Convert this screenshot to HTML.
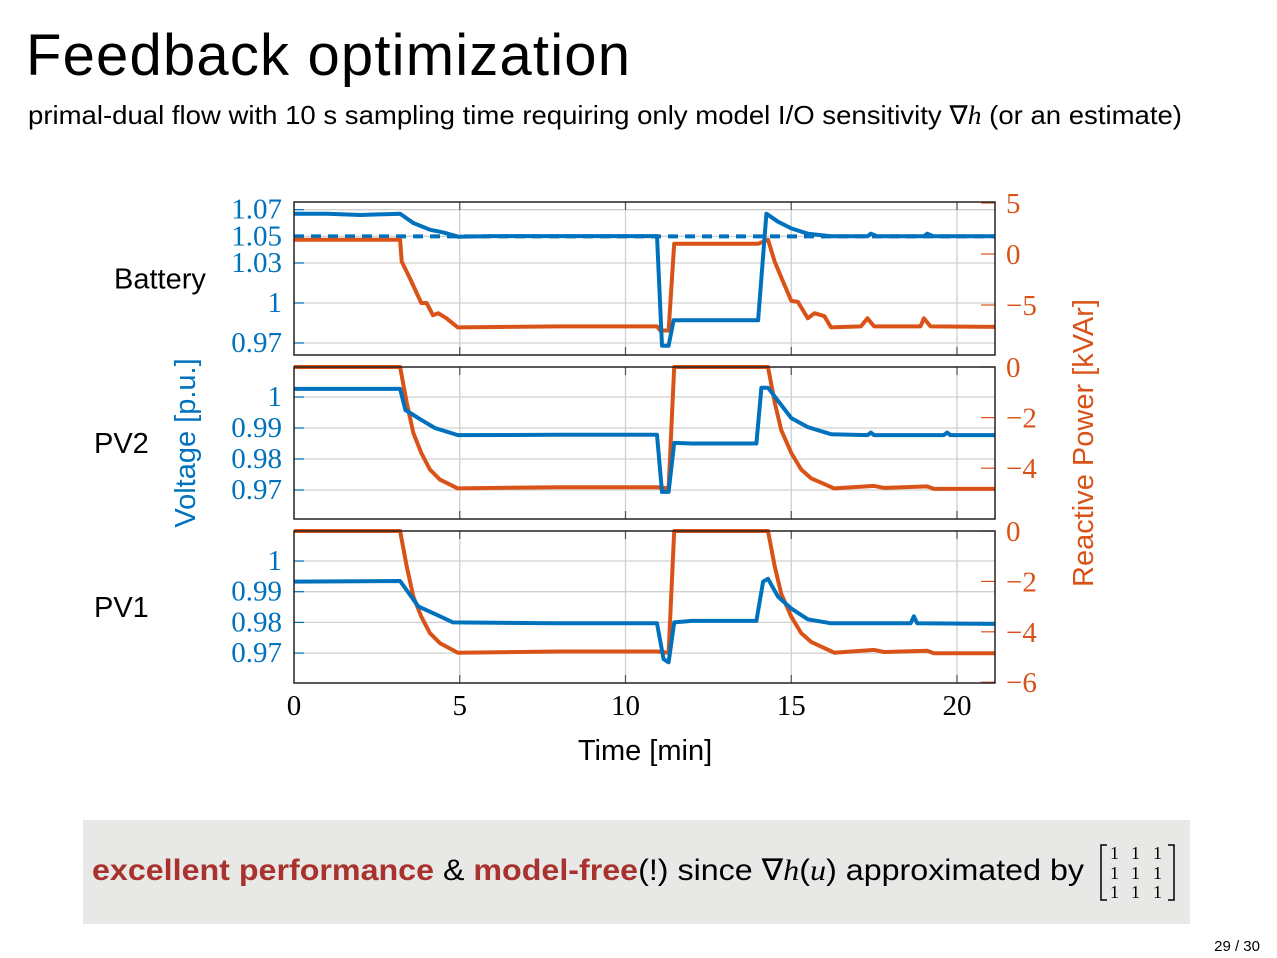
<!DOCTYPE html>
<html><head><meta charset="utf-8"><style>
html,body{margin:0;padding:0;background:#fff;}
svg{display:block;}
</style></head><body>
<svg id="page" width="1277" height="958" viewBox="0 0 1277 958" xmlns="http://www.w3.org/2000/svg">
<text x="26" y="75" font-family="Liberation Sans, sans-serif" font-size="58" fill="#000" textLength="604">Feedback optimization</text>
<text x="28" y="124" font-family="Liberation Sans, sans-serif" font-size="26" fill="#000" textLength="1154" lengthAdjust="spacingAndGlyphs">primal-dual flow with 10 s sampling time requiring only model I/O sensitivity ∇<tspan font-family="Liberation Serif, serif" font-style="italic">h</tspan> (or an estimate)</text>
<g id="chart"></g>
<rect x="83" y="820" width="1107" height="104" fill="#e8e8e6"/>
<text x="92" y="880" font-family="Liberation Sans, sans-serif" font-size="30" fill="#000" textLength="992" lengthAdjust="spacingAndGlyphs"><tspan font-weight="bold" fill="#a8322d">excellent performance</tspan> &amp; <tspan font-weight="bold" fill="#a8322d">model-free</tspan>(!) since ∇<tspan font-family="Liberation Serif, serif" font-style="italic">h</tspan>(<tspan font-family="Liberation Serif, serif" font-style="italic">u</tspan>) approximated by</text>
<g font-family="Liberation Serif, serif" font-size="18" fill="#000">
<path d="M1107 845 H1101 V900 H1107" fill="none" stroke="#000" stroke-width="1.5"/>
<path d="M1168 845 H1174 V900 H1168" fill="none" stroke="#000" stroke-width="1.5"/>
<text x="1110" y="859">1</text><text x="1131" y="859">1</text><text x="1153" y="859">1</text>
<text x="1110" y="879">1</text><text x="1131" y="879">1</text><text x="1153" y="879">1</text>
<text x="1110" y="898">1</text><text x="1131" y="898">1</text><text x="1153" y="898">1</text>
</g>
<text x="1260" y="951" text-anchor="end" font-family="Liberation Sans, sans-serif" font-size="15" fill="#000">29 / 30</text>
</svg>
<script>
const timeTicks = [0, 5, 10, 15, 20];
const batVT = [0,1,2,3.2,3.6,4.1,4.5,4.95,6,8,10,10.95,11.1,11.3,11.45,12,13,14.0,14.25,14.6,15.0,15.5,16.2,17.3,17.4,17.6,19.0,19.1,19.3,21.15];
const batVV = [1.067,1.067,1.066,1.067,1.06,1.055,1.053,1.0497,1.0502,1.0502,1.0502,1.0502,0.968,0.968,0.987,0.987,0.987,0.987,1.067,1.061,1.056,1.052,1.050,1.050,1.052,1.050,1.050,1.052,1.050,1.050];
const batQT = [0,3.2,3.25,3.5,3.84,4.0,4.19,4.35,4.6,4.94,8,10.95,11.05,11.3,11.47,12,14.0,14.3,14.5,14.75,15.0,15.2,15.5,15.7,16.0,16.2,17.1,17.3,17.5,18.9,19.0,19.2,21.15];
const batQV = [1.4,1.4,-0.75,-2.4,-4.8,-4.8,-6.0,-5.8,-6.3,-7.2,-7.1,-7.1,-7.5,-7.5,1.0,1.0,1.0,1.4,-0.75,-2.7,-4.6,-4.7,-6.3,-5.8,-6.1,-7.2,-7.1,-6.3,-7.1,-7.1,-6.3,-7.1,-7.15];
const pv2VT = [0,3.2,3.36,3.84,4.25,4.94,8,10.95,11.1,11.3,11.47,12,13.95,14.1,14.3,15.0,15.5,16.2,17.3,17.4,17.5,19.6,19.7,19.8,21.15];
const pv2VV = [1.0026,1.0026,0.9958,0.9926,0.990,0.9877,0.9878,0.9878,0.9694,0.9694,0.9852,0.985,0.985,1.003,1.003,0.9932,0.9903,0.988,0.9877,0.9885,0.9877,0.9877,0.9885,0.9877,0.9877];
const pv2QT = [0,3.2,3.4,3.6,3.84,4.1,4.4,4.94,8,10.95,11.3,11.47,14.3,14.5,14.7,15.0,15.3,15.6,16.3,17.5,17.8,19.1,19.3,21.15];
const pv2QV = [0,0,-1.4,-2.6,-3.4,-4.05,-4.45,-4.8,-4.75,-4.75,-4.8,0,0,-1.4,-2.5,-3.4,-4.05,-4.4,-4.8,-4.7,-4.78,-4.72,-4.82,-4.82];
const pv1VT = [0,3.2,3.75,4.3,4.8,8,10.95,11.15,11.3,11.47,12,13.95,14.15,14.3,14.6,15.0,15.5,16.2,18.6,18.7,18.8,21.15];
const pv1VV = [0.9933,0.9935,0.9852,0.9825,0.980,0.9797,0.9797,0.968,0.967,0.980,0.9805,0.9805,0.9933,0.9942,0.9884,0.9845,0.981,0.9797,0.9797,0.982,0.9797,0.9795];
const pv1QT = [0,3.2,3.4,3.6,3.84,4.1,4.4,4.94,8,10.95,11.3,11.47,14.3,14.5,14.7,15.0,15.3,15.6,16.3,17.5,17.8,19.1,19.3,21.15];
const pv1QV = [0,0,-1.4,-2.6,-3.4,-4.05,-4.45,-4.83,-4.78,-4.78,-4.83,0,0,-1.4,-2.5,-3.4,-4.05,-4.4,-4.83,-4.72,-4.8,-4.75,-4.85,-4.85];
const batVTicks = [1.07,1.05,1.03,1,0.97];
const batQTicks = [5,0,-5];
const pv2VTicks = [1,0.99,0.98,0.97];
const pv2QTicks = [0,-2,-4];
const pv1VTicks = [1,0.99,0.98,0.97];
const pv1QTicks = [0,-2,-4,-6];

const NS = 'http://www.w3.org/2000/svg';
const BLUE = '#0072bd', ORANGE = '#d95319';
const X0 = 294, X1 = 995;
const xs = t => X0 + t * 33.15;
const chart = document.getElementById('chart');
function mk(tag, attrs, parent) {
  const e = document.createElementNS(NS, tag);
  for (const k in attrs) e.setAttribute(k, attrs[k]);
  (parent || chart).appendChild(e);
  return e;
}
function fmt(v) { return v < 0 ? '\u2212' + Math.abs(v) : String(v); }

const panels = [
  {name:'battery', label:'Battery', lx:114, top:202, bot:355, v:v=>303-(v-1)*1333, q:q=>254-q*10.2,
   vT:batVTicks, qT:batQTicks, VT:batVT, VV:batVV, QT:batQT, QV:batQV, ref:1.05},
  {name:'pv2', label:'PV2', lx:94, top:367, bot:519, v:v=>397-(v-1)*3100, q:q=>367-q*25.3,
   vT:pv2VTicks, qT:pv2QTicks, VT:pv2VT, VV:pv2VV, QT:pv2QT, QV:pv2QV},
  {name:'pv1', label:'PV1', lx:94, top:531, bot:683, v:v=>561-(v-1)*3070, q:q=>531-q*25.2,
   vT:pv1VTicks, qT:pv1QTicks, VT:pv1VT, VV:pv1VV, QT:pv1QT, QV:pv1QV}
];

panels.forEach(p => {
  const g = mk('g', {});
  
  
  mk('rect', {x:X0, y:p.top, width:X1-X0, height:p.bot-p.top, fill:'#fff'}, g);
  p.vT.forEach(v => {
    const y = p.v(v);
    const gl = mk('line', {x1:X0, x2:X1, y1:y, y2:y, stroke:'#d0d0d0', 'stroke-width':1.3}, g);
    
    
    mk('line', {x1:X0, x2:X0+10, y1:y, y2:y, stroke:BLUE, 'stroke-width':1.2}, g);
    const t = mk('text', {x:282, y:y+9, 'text-anchor':'end', 'font-family':'Liberation Serif, serif', 'font-size':29, fill:BLUE}, g);
    t.textContent = fmt(v);
    
    
  });
  timeTicks.forEach(tt => {
    if (tt === 0) return;
    const x = xs(tt);
    mk('line', {x1:x, x2:x, y1:p.top, y2:p.bot, stroke:'#d0d0d0', 'stroke-width':1.3}, g);
    mk('line', {x1:x, x2:x, y1:p.bot-8, y2:p.bot, stroke:'#555', 'stroke-width':1.2}, g);
    mk('line', {x1:x, x2:x, y1:p.top, y2:p.top+8, stroke:'#555', 'stroke-width':1.2}, g);
  });
  p.qT.forEach(q => {
    const y = p.q(q);
    mk('line', {x1:X1-14, x2:X1, y1:y, y2:y, stroke:ORANGE, 'stroke-width':1.2}, g);
    const t = mk('text', {x:1006, y:y+10, 'font-family':'Liberation Serif, serif', 'font-size':29, fill:ORANGE}, g);
    t.textContent = fmt(q);
    
    
  });
  if (p.ref !== undefined) {
    const r = mk('line', {x1:X0, x2:X1, y1:p.v(p.ref), y2:p.v(p.ref), stroke:BLUE, 'stroke-width':4, 'stroke-dasharray':'10 7'}, g);
    
    
  }
  const qd = p.QT.map((t,i) => (i?'L':'M') + xs(t).toFixed(1) + ' ' + p.q(p.QV[i]).toFixed(1)).join(' ');
  const qp = mk('path', {d:qd, fill:'none', stroke:ORANGE, 'stroke-width':4, 'stroke-linejoin':'round'}, g);
  
  
  const vd = p.VT.map((t,i) => (i?'L':'M') + xs(t).toFixed(1) + ' ' + p.v(p.VV[i]).toFixed(1)).join(' ');
  const vp = mk('path', {d:vd, fill:'none', stroke:BLUE, 'stroke-width':4, 'stroke-linejoin':'round'}, g);
  
  
  mk('rect', {x:X0, y:p.top, width:X1-X0, height:p.bot-p.top, fill:'none', stroke:'#222', 'stroke-width':1.5}, g);
  const lb = mk('text', {x:p.lx, y:(p.top+p.bot)/2+10, 'font-family':'Liberation Sans, sans-serif', 'font-size':29, fill:'#000'}, g);
  lb.textContent = p.label;
  
  
});

timeTicks.forEach(tt => {
  const t = mk('text', {x:xs(tt), y:715, 'text-anchor':'middle', 'font-family':'Liberation Serif, serif', 'font-size':29, fill:'#000'});
  t.textContent = tt;
  
  
});
const xt = mk('text', {x:645, y:760, 'text-anchor':'middle', 'font-family':'Liberation Sans, sans-serif', 'font-size':29, fill:'#000'});
xt.textContent = 'Time [min]';


const yl = mk('text', {x:0, y:0, transform:'translate(195,443) rotate(-90)', 'text-anchor':'middle', 'font-family':'Liberation Sans, sans-serif', 'font-size':29, fill:BLUE});
yl.textContent = 'Voltage [p.u.]';


const yr = mk('text', {x:0, y:0, transform:'translate(1093,443) rotate(-90)', 'text-anchor':'middle', 'font-family':'Liberation Sans, sans-serif', 'font-size':29, fill:ORANGE});
yr.textContent = 'Reactive Power [kVAr]';


</script>
</body></html>
